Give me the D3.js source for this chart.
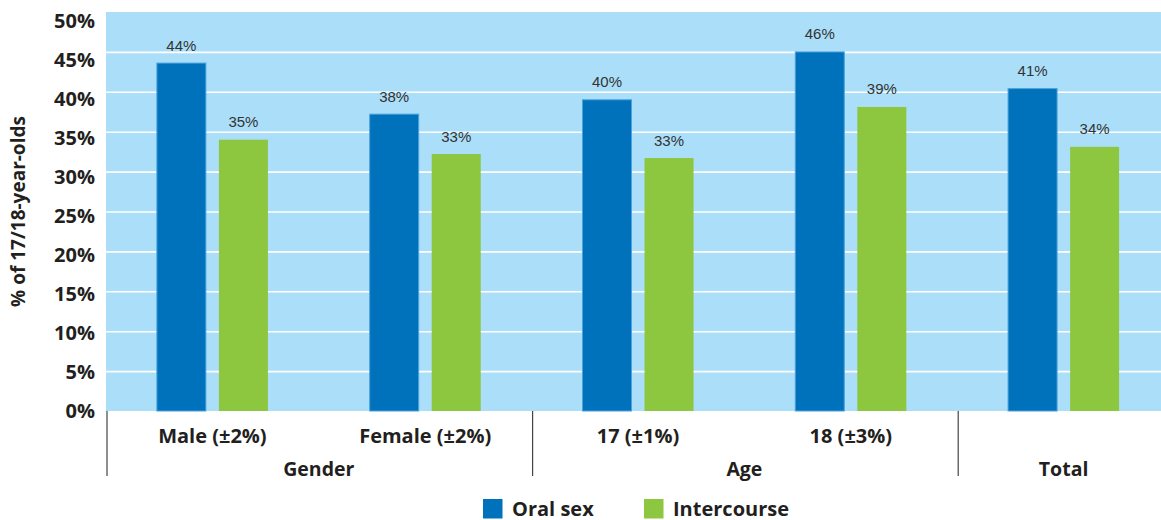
<!DOCTYPE html>
<html><head><meta charset="utf-8">
<script src="https://cdn.jsdelivr.net/npm/d3@7"></script>
<style>
body{margin:0;background:#fff;}
text{font-family:"Open Sans","Noto Sans",sans-serif;}
</style></head>
<body><svg id="c" width="1161" height="520"></svg>
<script>
const categories = ["Male (±2%)", "Female (±2%)", "17 (±1%)", "18 (±3%)", "Total"];
const groups = [
  {name: "Gender", from: 0, to: 2},
  {name: "Age", from: 2, to: 4},
  {name: "Total", from: 4, to: 5}
];
const series = ["Oral sex", "Intercourse"];
const oralSex = [43.6, 37.2, 39.0, 45.0, 40.4];
const intercourse = [34.0, 32.2, 31.7, 38.1, 33.1];
const oralLabels = ["44%", "38%", "40%", "46%", "41%"];
const interLabels = ["35%", "33%", "33%", "39%", "34%"];
const yTicks = [0, 5, 10, 15, 20, 25, 30, 35, 40, 45, 50];
const colors = ["#0071bb", "#8dc63f"];

const svg = d3.select("#c");
const mLeft = 106, mTop = 12, mBottom = 411, band = 212.8;
const x0 = d3.scaleBand().domain(categories).range([mLeft, mLeft + band * categories.length]).padding(0);
const x1 = d3.scaleBand().domain(series).range([0, x0.bandwidth()]).paddingInner(0.21).paddingOuter(0.82);
const y = d3.scaleLinear().domain([0, 50]).range([mBottom, mTop]);
// tick labels in the reference sit on a slightly compressed scale
const yLab = d3.scaleLinear().domain([0, 50]).range([mBottom, 21]);

const defs = svg.append("defs");
defs.append("clipPath").attr("id", "clip").append("rect").attr("x", 0).attr("y", 0).attr("width", 1161).attr("height", 520);

const g = svg.append("g").attr("clip-path", "url(#clip)");
g.append("rect").attr("x", mLeft).attr("y", y(50)).attr("width", x0.range()[1] - mLeft).attr("height", y(0) - y(50)).attr("fill", "#abdff9");

// gridlines
const grid = g.append("g").attr("transform", `translate(${mLeft},0)`)
  .call(d3.axisLeft(y).tickValues(yTicks.filter(t => t > 0 && t < 50)).tickSize(-(x0.range()[1] - mLeft)).tickFormat(""));
grid.select(".domain").remove();
grid.selectAll("line").attr("stroke", "#ffffff").attr("stroke-width", 1.6);

const data = categories.map((c, i) => ({cat: c, vals: [
  {s: series[0], v: oralSex[i], l: oralLabels[i]},
  {s: series[1], v: intercourse[i], l: interLabels[i]}
]}));

const cg = g.selectAll(".cat").data(data).enter().append("g").attr("transform", d => `translate(${x0(d.cat)},0)`);
cg.selectAll("rect").data(d => d.vals).enter().append("rect")
  .attr("x", d => x1(d.s)).attr("width", x1.bandwidth())
  .attr("y", d => y(d.v)).attr("height", d => y(0) - y(d.v))
  .attr("fill", (d, i) => colors[i])
  .attr("stroke", (d, i) => i === 0 ? "#4ea3dc" : "none").attr("stroke-width", 1);
cg.selectAll("text.lbl").data(d => d.vals).enter().append("text").attr("class", "lbl")
  .attr("x", d => x1(d.s) + x1.bandwidth() / 2).attr("y", d => y(d.v) - 12.5)
  .attr("text-anchor", "middle")
  .style("font-family", "'Liberation Sans', Arial, sans-serif")
  .attr("font-size", 15).attr("fill", "#333")
  .text(d => d.l);

// y axis
const ya = svg.append("g").attr("transform", `translate(${mLeft},0)`).call(d3.axisLeft(yLab).tickValues(yTicks).tickSize(0).tickPadding(11).tickFormat(d => d + "%"));
ya.select(".domain").remove();
ya.selectAll("text").attr("font-size", 20).attr("font-weight", 700).attr("fill", "#231f20").style("font-family", "'Open Sans',sans-serif");

svg.append("text").attr("transform", `translate(25,${(mTop + mBottom) / 2}) rotate(-90)`)
  .attr("text-anchor", "middle").attr("font-size", 19).attr("font-weight", 700).attr("fill", "#231f20")
  .text("% of 17/18-year-olds");

// x axis category labels
svg.selectAll("text.cat").data(categories).enter().append("text").attr("class", "cat")
  .attr("x", d => x0(d) + x0.bandwidth() / 2).attr("y", 443)
  .attr("text-anchor", "middle").attr("font-size", 20).attr("font-weight", 700).attr("fill", "#231f20")
  .text(d => d === "Total" ? "" : d);

// separators
const seps = [0, 2, 4];
svg.selectAll("line.sep").data(seps).enter().append("line").attr("class", "sep")
  .attr("x1", d => x0(categories[d]) + 1).attr("x2", d => x0(categories[d]) + 1)
  .attr("y1", mBottom).attr("y2", 476).attr("stroke", "#444").attr("stroke-width", 1.2);

svg.selectAll("text.grp").data(groups).enter().append("text").attr("class", "grp")
  .attr("x", d => (x0(categories[d.from]) + x0(categories[d.to - 1]) + x0.bandwidth()) / 2).attr("y", 476)
  .attr("text-anchor", "middle").attr("font-size", 19.5).attr("font-weight", 700).attr("fill", "#231f20")
  .text(d => d.name);

// legend
const legX = [483, 644];
const lg = svg.selectAll("g.leg").data(series).enter().append("g").attr("class", "leg")
  .attr("transform", (d, i) => `translate(${legX[i]},499)`);
lg.append("rect").attr("width", 19.5).attr("height", 19.5).attr("fill", (d, i) => colors[i]);
lg.append("text").attr("x", 29).attr("y", 16.5).attr("font-size", 20).attr("font-weight", 700).attr("fill", "#231f20").text(d => d);
</script></body></html>
